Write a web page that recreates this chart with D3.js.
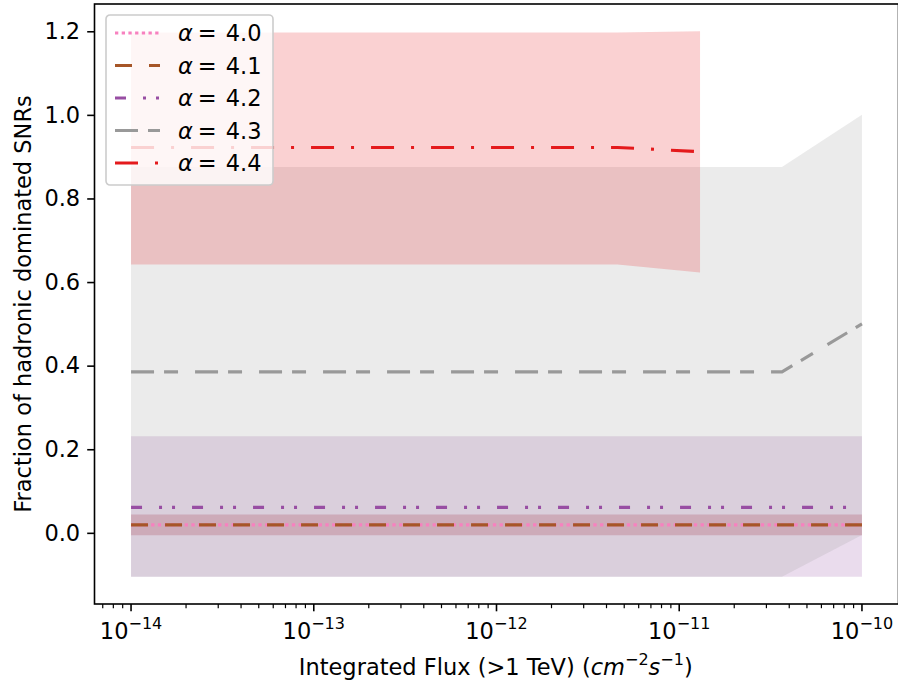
<!DOCTYPE html>
<html>
<head>
<meta charset="utf-8">
<script src="https://cdn.jsdelivr.net/npm/d3@7"></script>
<style>
  body { margin: 0; background: #fff; }
  svg { display: block; font-family: "DejaVu Sans", sans-serif; }
</style>
</head>
<body>
<svg id="chart" width="898" height="682"></svg>
<script>
// series labels (spectral index alpha)
var alphaLabels = ["4.0", "4.1", "4.2", "4.3", "4.4"];

// flux thresholds (x) for each series
var flux40 = [1e-14, 1e-10];
var flux41 = [1e-14, 1e-10];
var flux42 = [1e-14, 1e-10];
var flux43 = [1e-14, 3.65e-11, 1e-10];
var flux44 = [1e-14, 4.6e-12, 1.3e-11];

// mean fraction of hadronic dominated SNRs
var frac40 = [0.019, 0.019];
var frac41 = [0.019, 0.019];
var frac42 = [0.061, 0.061];
var frac43 = [0.385, 0.385, 0.5];
var frac44 = [0.922, 0.922, 0.912];

// lower / upper edges of the shaded bands
var low40 = [-0.006, -0.006];
var high40 = [0.044, 0.044];
var low41 = [-0.006, -0.006];
var high41 = [0.044, 0.044];
var low42 = [-0.105, -0.105];
var high42 = [0.231, 0.231];
var low43 = [-0.105, -0.105, -0.005];
var high43 = [0.875, 0.875, 1.0];
var low44 = [0.642, 0.642, 0.623];
var high44 = [1.197, 1.197, 1.2];

var yTicks = [0, 0.2, 0.4, 0.6, 0.8, 1.0, 1.2];
var xTickExps = [-14, -13, -12, -11, -10];

// styles
var colors = ["#f781bf", "#a65628", "#984ea3", "#999999", "#e41a1c"];
var dashes = ["3.3,3.4", "17,17", "11,17,3,10,3,17", "23,10,14,17", "23,17,3,17"];

var series = [
  { x: flux40, y: frac40, lo: low40, hi: high40 },
  { x: flux41, y: frac41, lo: low41, hi: high41 },
  { x: flux42, y: frac42, lo: low42, hi: high42 },
  { x: flux43, y: frac43, lo: low43, hi: high43 },
  { x: flux44, y: frac44, lo: low44, hi: high44 }
];

var svg = d3.select("#chart");
var fontSize = 22.5;
var supSize = 16;

// plot box
var boxLeft = 94.5, boxRight = 898.5, boxTop = 4, boxBottom = 604;

// matplotlib style 5% margins
var yMin = -0.105, yMax = 1.2;
var yPad = (yMax - yMin) * 0.05;
var xScale = d3.scaleLog()
  .domain([Math.pow(10, -14.2), Math.pow(10, -9.8)])
  .range([boxLeft, boxRight]);
var yScale = d3.scaleLinear()
  .domain([yMin - yPad, yMax + yPad])
  .range([boxBottom, boxTop]);

var area = d3.area()
  .x(d => xScale(d[0]))
  .y0(d => yScale(d[1]))
  .y1(d => yScale(d[2]));
var line = d3.line()
  .x(d => xScale(d[0]))
  .y(d => yScale(d[1]));

var plot = svg.append("g");

// bands first (below every line)
series.forEach((s, i) => {
  var pts = s.x.map((xv, j) => [xv, s.lo[j], s.hi[j]]);
  plot.append("path")
    .attr("d", area(pts))
    .attr("fill", colors[i])
    .attr("fill-opacity", 0.2)
    .attr("stroke", "none");
});

series.forEach((s, i) => {
  var pts = s.x.map((xv, j) => [xv, s.y[j]]);
  plot.append("path")
    .attr("d", line(pts))
    .attr("fill", "none")
    .attr("stroke", colors[i])
    .attr("stroke-width", 3.1)
    .attr("stroke-dasharray", dashes[i]);
});

// y axis
var yAxis = d3.axisLeft(yScale)
  .tickValues(yTicks)
  .tickSize(7.3)
  .tickPadding(7)
  .tickFormat(d3.format(".1f"));
var gy = svg.append("g")
  .attr("transform", "translate(" + boxLeft + ",0)")
  .call(yAxis);
gy.select(".domain").remove();
gy.selectAll(".tick line").attr("stroke", "#000").attr("stroke-width", 1.6);
gy.selectAll(".tick text")
  .attr("font-size", fontSize)
  .attr("font-family", "DejaVu Sans")
  .attr("fill", "#000");

// x axis: minor ticks
var minorTicks = [];
for (var e = -15; e <= -10; e++) {
  for (var m = 2; m <= 9; m++) {
    var v = m * Math.pow(10, e);
    if (v > xScale.domain()[0] && v < xScale.domain()[1]) minorTicks.push(v);
  }
}
var gx = svg.append("g").attr("transform", "translate(0," + boxBottom + ")");
gx.selectAll("line.minor")
  .data(minorTicks)
  .enter().append("line")
  .attr("x1", d => xScale(d)).attr("x2", d => xScale(d))
  .attr("y1", 0).attr("y2", 4.2)
  .attr("stroke", "#000").attr("stroke-width", 1.2);
gx.selectAll("line.major")
  .data(xTickExps)
  .enter().append("line")
  .attr("x1", d => xScale(Math.pow(10, d))).attr("x2", d => xScale(Math.pow(10, d)))
  .attr("y1", 0).attr("y2", 7.3)
  .attr("stroke", "#000").attr("stroke-width", 1.6);
var xLabels = gx.selectAll("text.tl")
  .data(xTickExps)
  .enter().append("text")
  .attr("x", d => xScale(Math.pow(10, d)))
  .attr("y", 35)
  .attr("text-anchor", "middle")
  .attr("font-size", fontSize);
xLabels.append("tspan").text("10");
xLabels.append("tspan")
  .attr("dy", -10)
  .attr("font-size", supSize)
  .text(d => "\u2212" + Math.abs(d));

// spines
svg.append("rect")
  .attr("x", boxLeft).attr("y", boxTop)
  .attr("width", boxRight - boxLeft).attr("height", boxBottom - boxTop)
  .attr("fill", "none")
  .attr("stroke", "#000")
  .attr("stroke-width", 1.6);

// axis labels
svg.append("text")
  .attr("x", (boxLeft + 897) / 2)
  .attr("y", 675)
  .attr("text-anchor", "middle")
  .attr("font-size", fontSize)
  .call(t => {
    t.append("tspan").text("Integrated Flux (>1 TeV) (");
    t.append("tspan").attr("font-style", "italic").text("cm");
    t.append("tspan").attr("dy", -10).attr("font-size", supSize).text("\u22122");
    t.append("tspan").attr("dy", 10).attr("font-style", "italic").text("s");
    t.append("tspan").attr("dy", -10).attr("font-size", supSize).text("\u22121");
    t.append("tspan").attr("dy", 10).text(")");
  });

svg.append("text")
  .attr("transform", "translate(31," + ((boxTop + boxBottom) / 2) + ") rotate(-90)")
  .attr("text-anchor", "middle")
  .attr("font-size", fontSize)
  .text("Fraction of hadronic dominated SNRs");

// legend
var legend = svg.append("g").attr("transform", "translate(106,15)");
legend.append("rect")
  .attr("width", 167).attr("height", 170)
  .attr("rx", 4).attr("ry", 4)
  .attr("fill", "#fff").attr("fill-opacity", 0.8)
  .attr("stroke", "#cccccc").attr("stroke-width", 1.6);
alphaLabels.forEach((lab, i) => {
  var cy = 18 + i * 32.5;
  legend.append("line")
    .attr("x1", 9).attr("x2", 54)
    .attr("y1", cy).attr("y2", cy)
    .attr("stroke", colors[i])
    .attr("stroke-width", 3.1)
    .attr("stroke-dasharray", dashes[i]);
  var t = legend.append("text")
    .attr("x", 72).attr("y", cy + 8)
    .attr("font-size", fontSize)
    .attr("xml:space", "preserve");
  t.append("tspan").attr("font-style", "italic").text("\u03b1");
  t.append("tspan").attr("dx", 5).text("=");
  t.append("tspan").attr("dx", 9).text(lab);
});
</script>
</body>
</html>
